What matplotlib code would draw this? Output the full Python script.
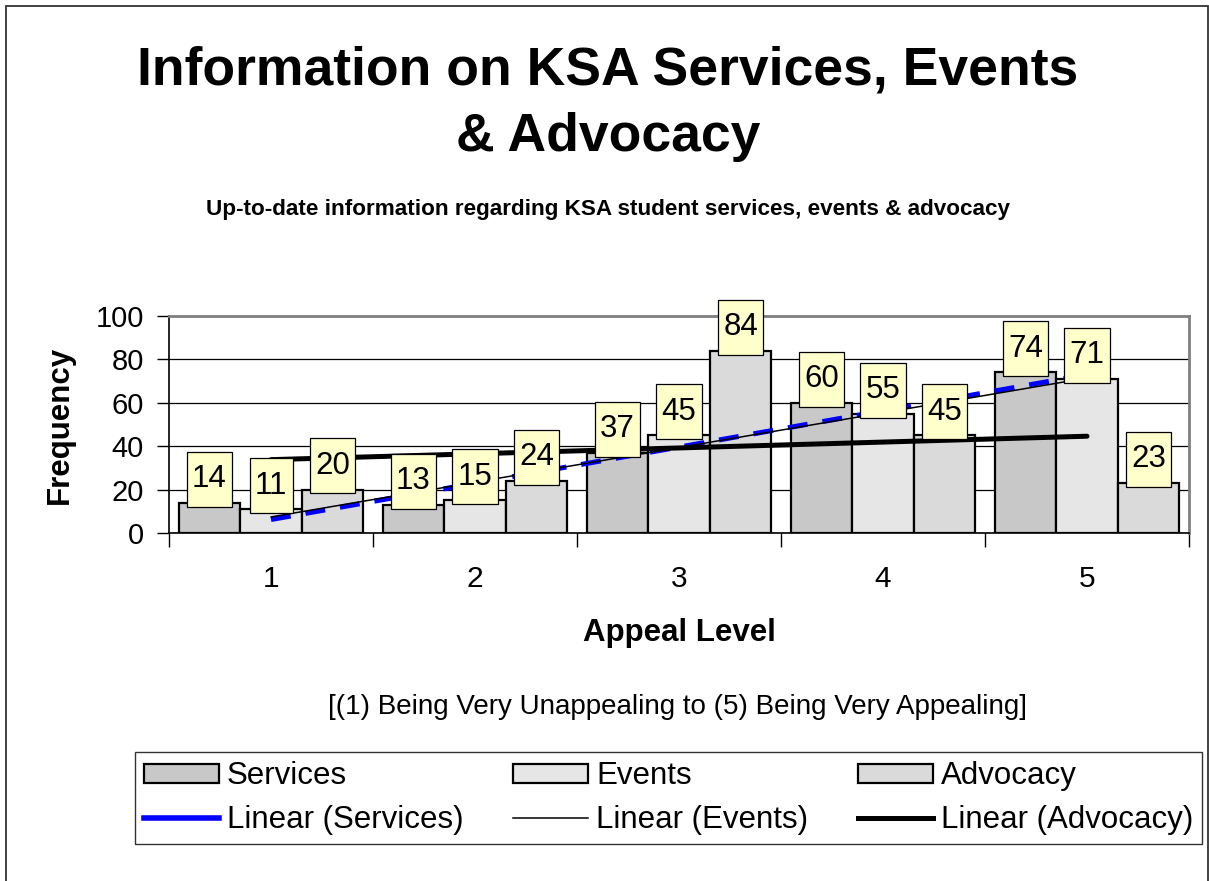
import numpy as np
import matplotlib
matplotlib.use("Agg")
import matplotlib.pyplot as plt
from matplotlib.patches import Rectangle
from matplotlib.lines import Line2D
from matplotlib.path import Path

plt.rcParams['font.family'] = ['Liberation Sans', 'DejaVu Sans']

categories = [1, 2, 3, 4, 5]
services = [14, 13, 37, 60, 74]
events = [11, 15, 45, 55, 71]
advocacy = [20, 24, 84, 45, 23]
series_names = ["Services", "Events", "Advocacy"]
y_ticks = [0, 20, 40, 60, 80, 100]

title = "Information on KSA Services, Events\n& Advocacy"
subtitle = "Up-to-date information regarding KSA student services, events & advocacy"
xlabel = "Appeal Level"
ylabel = "Frequency"
note = "[(1) Being Very Unappealing to (5) Being Very Appealing]"

W, H = 1209, 881
fig = plt.figure(figsize=(W / 100, H / 100), dpi=100)

def fx(px):
    return px / W

def fy(py):
    return 1 - py / H

ax = fig.add_axes([fx(169), fy(533), fx(1189) - fx(169), fy(316) - fy(533)])

x = np.array(categories, dtype=float)
bw = 0.302
colors = ["#c8c8c8", "#e6e6e6", "#dadada"]
data = [services, events, advocacy]
for i, (vals, c, name) in enumerate(zip(data, colors, series_names)):
    ax.bar(x + (i - 1) * bw, vals, width=bw, color=c, edgecolor="black",
           linewidth=1.6, zorder=2, label=name)

# Linear trendlines (least squares fit through category centres)
xs = np.array([x[0], x[-1]])
styles = [dict(color="#0000ff", lw=3.6, ls=(0, (4, 3)), zorder=3),
          dict(color="black", lw=1.1, ls="-", zorder=4),
          dict(color="black", lw=3.6, ls="-", zorder=5)]
for vals, st in zip(data, styles):
    m, k = np.polyfit(x, vals, 1)
    ax.plot(xs, m * xs + k, solid_capstyle="round", **st)


def label_box(x0, y0, width, height, mutation_size):
    px = 0.17 * mutation_size
    py = 0.40 * mutation_size
    xa, ya = x0 - px, y0 - py
    xb, yb = x0 + width + px, y0 + height + py
    return Path([(xa, ya), (xb, ya), (xb, yb), (xa, yb), (xa, ya)], closed=True)


# data labels
for i, vals in enumerate(data):
    for xi, v in zip(x + (i - 1) * bw, vals):
        ax.annotate(str(v), (xi, v), xytext=(0, 17), textcoords="offset points",
                    ha="center", va="center", fontsize=22.5, zorder=6,
                    bbox=dict(boxstyle=label_box, fc="#ffffcc", ec="black", lw=0.9))

ax.set_xlim(0.5, 5.5)
ax.set_ylim(0, 100)
ax.set_yticks(y_ticks)
ax.set_yticklabels([str(t) for t in y_ticks], fontsize=21)
ax.set_xticks(np.arange(0.5, 6, 1.0))
ax.set_xticklabels([])
ax.set_xticks(x, minor=True)
ax.set_xticklabels([str(c) for c in categories], minor=True, fontsize=21.5)
ax.tick_params(axis="x", which="major", length=10, width=1, color="black", direction="out")
ax.tick_params(axis="x", which="minor", length=0, pad=23)
ax.tick_params(axis="y", length=9, width=1, direction="out", pad=9)
ax.yaxis.grid(True, color="black", lw=0.9, zorder=0)
ax.set_axisbelow(True)
for s in ["top", "right"]:
    ax.spines[s].set_color("#808080")
    ax.spines[s].set_linewidth(2)
for s in ["left", "bottom"]:
    ax.spines[s].set_color("black")
    ax.spines[s].set_linewidth(1.2)

fig.text(fx(608), fy(104), title, ha="center", va="center", fontsize=38.5,
         fontweight="bold", linespacing=1.42)
fig.text(fx(608), fy(209), subtitle, ha="center", va="center", fontsize=16.2,
         fontweight="bold")
fig.text(fx(60), fy(425), ylabel, ha="center", va="center", rotation=90,
         fontsize=22.5, fontweight="bold")
fig.text(fx(679), fy(633), xlabel, ha="center", va="center", fontsize=22.5,
         fontweight="bold")
fig.text(fx(678), fy(707), note, ha="center", va="center", fontsize=20)

# legend
h_s = Rectangle((0, 0), 1, 1, fc=colors[0], ec="black", lw=1.6)
h_e = Rectangle((0, 0), 1, 1, fc=colors[1], ec="black", lw=1.6)
h_a = Rectangle((0, 0), 1, 1, fc=colors[2], ec="black", lw=1.6)
l_s = Line2D([], [], color="#0000ff", lw=4)
l_e = Line2D([], [], color="black", lw=1.1)
l_a = Line2D([], [], color="black", lw=3.6)
handles = [h_s, l_s, h_e, l_e, h_a, l_a]
labels = ["Services", "Linear (Services)", "Events", "Linear (Events)",
          "Advocacy", "Linear (Advocacy)"]
leg = fig.legend(handles, labels, ncol=3, loc="lower left",
                 bbox_to_anchor=(fx(135), fy(844), fx(1202) - fx(135), fy(752) - fy(844)),
                 mode="expand", borderaxespad=0, fontsize=22.5, frameon=True,
                 fancybox=False, edgecolor="black", handlelength=2.4,
                 handleheight=0.55, handletextpad=0.25, labelspacing=0.45,
                 borderpad=0.28, columnspacing=0.5)
leg.get_frame().set_linewidth(1.0)

# outer frame
fig.patches.append(Rectangle((fx(6), -0.01), fx(1208) - fx(6), fy(6) + 0.01,
                             transform=fig.transFigure, fill=False, ec="#333333",
                             lw=1.3, zorder=0))

fig.savefig("out.png", dpi=100)
